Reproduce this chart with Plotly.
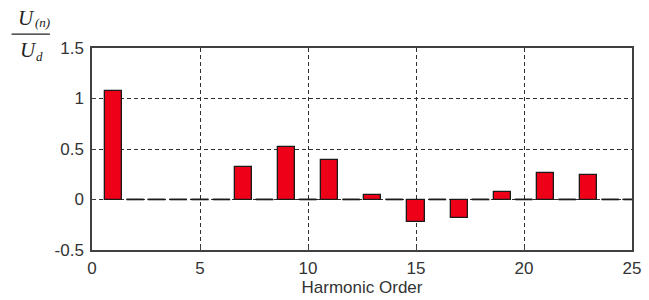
import plotly.graph_objects as go

harmonics = list(range(1, 26))
values = [1.07, 0, 0, 0, 0, 0, 0.32, 0, 0.52, 0, 0.39, 0, 0.04, 0, -0.22, 0,
          -0.18, 0, 0.07, 0, 0.26, 0, 0.24, 0, 0]
x_ticks = [0, 5, 10, 15, 20, 25]
y_ticks = [-0.5, 0, 0.5, 1, 1.5]
y_tick_text = ["-0.5", "0", "0.5", "1", "1.5"]
bar_width = 0.8

fig = go.Figure()
# zero-height bars drawn as their edge segments
seg_x, seg_y = [], []
for h, v in zip(harmonics, values):
    if v == 0:
        seg_x += [h - bar_width / 2, h + bar_width / 2, None]
        seg_y += [0, 0, None]
fig.add_trace(go.Scatter(x=seg_x, y=seg_y, mode="lines",
                         line=dict(color="#1a1a1a", width=1.6),
                         hoverinfo="skip", showlegend=False))
fig.add_trace(go.Bar(x=harmonics, y=values, width=bar_width,
                     marker=dict(color="#EE0018", line=dict(color="#1a1a1a", width=1.3)),
                     showlegend=False))

tick_font = dict(family="Liberation Sans, Arial", size=17, color="#333333")
axis_common = dict(showline=True, linecolor="#404040", linewidth=1.5, mirror=True,
                   ticks="inside", ticklen=4, tickcolor="#404040",
                   showgrid=True, gridcolor="#303030", griddash="4px,3px", gridwidth=1,
                   zeroline=False, tickfont=tick_font)

fig.update_xaxes(range=[0, 25], tickvals=x_ticks, ticktext=[str(t) for t in x_ticks],
                 ticklabelstandoff=2,
                 title=dict(text="Harmonic Order", standoff=2, font=tick_font),
                 **axis_common)
fig.update_yaxes(range=[-0.5, 1.5], tickvals=y_ticks, ticktext=y_tick_text,
                 ticklabelstandoff=3, **axis_common)

big = dict(family="Liberation Serif, Times New Roman", size=21, color="#222222")
small = dict(family="Liberation Serif, Times New Roman", size=13, color="#222222")
ann = dict(xref="paper", yref="paper", xanchor="center", yanchor="middle", showarrow=False)
fig.add_annotation(x=-0.122, y=1.150, text="<i>U</i>", font=big, **ann)
fig.add_annotation(x=-0.091, y=1.125, text="<i>(n)</i>", font=small, **ann)
fig.add_annotation(x=-0.118, y=0.990, text="<i>U</i>", font=big, **ann)
fig.add_annotation(x=-0.097, y=0.960, text="<i>d</i>", font=small, **ann)
fig.add_shape(type="line", xref="paper", yref="paper", x0=-0.149, x1=-0.078, y0=1.069, y1=1.069,
              line=dict(color="#222222", width=1.2))

fig.update_layout(width=649, height=300, margin=dict(l=92, r=8, t=48, b=50),
                  plot_bgcolor="white", paper_bgcolor="white", bargap=0)
fig.write_html("out.html", config={"displayModeBar": False},
               post_script="document.body.style.margin='0';")
